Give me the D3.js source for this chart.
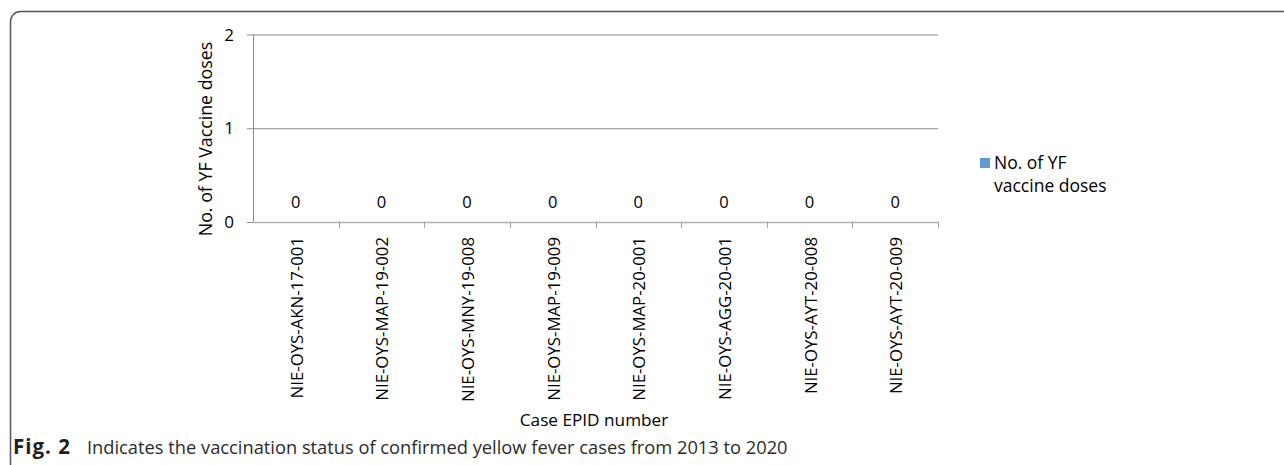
<!DOCTYPE html>
<html>
<head>
<meta charset="utf-8">
<script src="https://cdn.jsdelivr.net/npm/d3@7"></script>
<style>
  html, body { margin: 0; padding: 0; background: #fff; }
  svg { display: block; }
</style>
</head>
<body>
<svg id="chart" width="1284" height="465"></svg>
<script>
// Case EPID numbers and the number of YF vaccine doses recorded for each
const caseIds = [
  "NIE-OYS-AKN-17-001",
  "NIE-OYS-MAP-19-002",
  "NIE-OYS-MNY-19-008",
  "NIE-OYS-MAP-19-009",
  "NIE-OYS-MAP-20-001",
  "NIE-OYS-AGG-20-001",
  "NIE-OYS-AYT-20-008",
  "NIE-OYS-AYT-20-009"
];
const vaccineDoses = [0, 0, 0, 0, 0, 0, 0, 0];
const yTicks = [0, 1, 2];
const seriesName = ["No. of YF", "vaccine doses"];

const svg = d3.select("#chart");
const chartFont = "'Open Sans', 'Noto Sans', sans-serif";

// Figure frame (rounded panel continuing past the right edge)
svg.append("rect")
  .attr("x", 10.5).attr("y", 11.5)
  .attr("width", 1300).attr("height", 462)
  .attr("rx", 10).attr("ry", 10)
  .attr("fill", "none")
  .attr("stroke", "#555")
  .attr("stroke-width", 1.5);

const plot = { left: 253, right: 938, top: 34.5, bottom: 222 };

const x = d3.scaleBand()
  .domain(caseIds)
  .range([plot.left, plot.right])
  .paddingInner(0.5).paddingOuter(0.25);

const y = d3.scaleLinear()
  .domain([0, 2])
  .range([plot.bottom, plot.top]);

const g = svg.append("g");

// Horizontal gridlines, extending a few pixels left of the value axis
const yG = g.append("g")
  .attr("transform", `translate(${plot.right},0)`)
  .call(d3.axisLeft(y).tickValues(yTicks).tickSize(plot.right - plot.left + 6).tickFormat(""));
yG.select(".domain").remove();
yG.selectAll(".tick line").attr("stroke", "#8c8c8c").attr("stroke-width", 1);

// Tick labels for the value axis
g.selectAll("text.ytick")
  .data(yTicks)
  .join("text")
  .attr("class", "ytick")
  .attr("x", 229)
  .attr("y", d => y(d))
  .attr("dy", "0.36em")
  .attr("text-anchor", "middle")
  .attr("font-family", chartFont)
  .attr("font-size", 17)
  .attr("fill", "#000")
  .text(d => d);

// Vertical axis line
g.append("line")
  .attr("x1", plot.left + 0.5).attr("x2", plot.left + 0.5)
  .attr("y1", plot.top).attr("y2", plot.bottom)
  .attr("stroke", "#8c8c8c");

// Category axis with boundary tick marks
const xBoundaries = d3.range(caseIds.length + 1).map(i => plot.left + i * x.step());
g.append("line")
  .attr("x1", plot.left).attr("x2", plot.right)
  .attr("y1", plot.bottom + 0.5).attr("y2", plot.bottom + 0.5)
  .attr("stroke", "#b0b0b0").attr("stroke-width", 1.5);
g.selectAll("line.xtick")
  .data(xBoundaries.slice(1))
  .join("line")
  .attr("class", "xtick")
  .attr("x1", d => Math.round(d) + 0.5).attr("x2", d => Math.round(d) + 0.5)
  .attr("y1", plot.bottom).attr("y2", plot.bottom + 6)
  .attr("stroke", "#a0a0a0");

// Bars (zero height for every case)
g.selectAll("rect.bar")
  .data(vaccineDoses)
  .join("rect")
  .attr("class", "bar")
  .attr("x", (d, i) => x(caseIds[i]))
  .attr("width", x.bandwidth())
  .attr("y", d => y(d))
  .attr("height", d => y(0) - y(d))
  .attr("fill", "#5b9bd5");

// Value labels
g.selectAll("text.value")
  .data(vaccineDoses)
  .join("text")
  .attr("class", "value")
  .attr("x", (d, i) => x(caseIds[i]) + x.bandwidth() / 2)
  .attr("y", d => y(d) - 14)
  .attr("text-anchor", "middle")
  .attr("font-family", chartFont)
  .attr("font-size", 16.5)
  .attr("fill", "#000")
  .text(d => d);

// Rotated case labels
g.selectAll("text.cat")
  .data(caseIds)
  .join("text")
  .attr("class", "cat")
  .attr("transform", d => `translate(${x(d) + x.bandwidth() / 2 + 7},${plot.bottom + 15}) rotate(-90)`)
  .attr("text-anchor", "end")
  .attr("font-family", chartFont)
  .attr("font-size", 16.8)
  .attr("fill", "#000")
  .text(d => d);

// Axis titles
g.append("text")
  .attr("transform", "translate(212,139) rotate(-90)")
  .attr("text-anchor", "middle")
  .attr("font-family", chartFont)
  .attr("font-size", 17.8)
  .attr("fill", "#000")
  .text("No. of YF Vaccine doses");

g.append("text")
  .attr("x", 594)
  .attr("y", 426)
  .attr("text-anchor", "middle")
  .attr("font-family", chartFont)
  .attr("font-size", 17.2)
  .attr("fill", "#000")
  .text("Case EPID number");

// Legend
const legend = g.append("g").attr("transform", "translate(980,158)");
legend.append("rect")
  .attr("width", 10).attr("height", 10)
  .attr("fill", "#5b9bd5");
legend.selectAll("text")
  .data(seriesName)
  .join("text")
  .attr("x", 14)
  .attr("y", (d, i) => 11 + i * 23)
  .attr("font-family", chartFont)
  .attr("font-size", 17.5)
  .attr("fill", "#000")
  .text(d => d);

// Caption
svg.append("text")
  .attr("x", 13)
  .attr("y", 454)
  .attr("font-family", chartFont)
  .attr("font-size", 20.5)
  .attr("font-weight", "bold")
  .attr("letter-spacing", 1)
  .attr("fill", "#231f20")
  .text("Fig. 2");
svg.append("text")
  .attr("x", 87)
  .attr("y", 454)
  .attr("font-family", chartFont)
  .attr("font-size", 18.3)
  .attr("fill", "#2b2b2b")
  .text("Indicates the vaccination status of confirmed yellow fever cases from 2013 to 2020");
</script>
</body>
</html>
